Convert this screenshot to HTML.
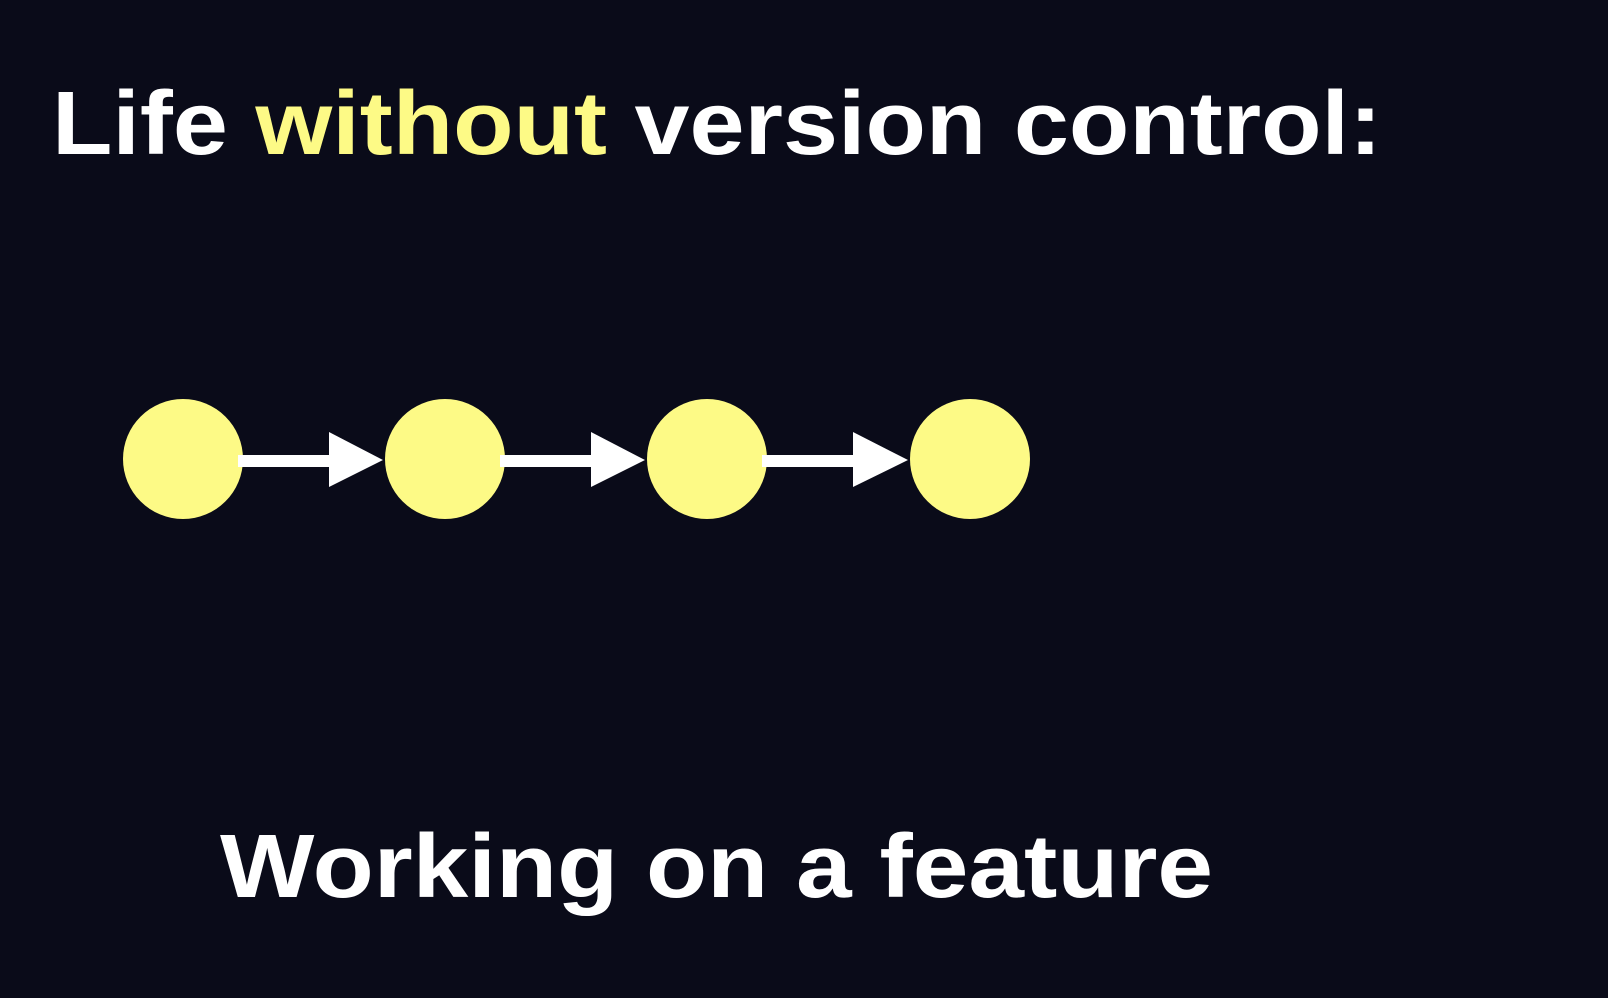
<!DOCTYPE html>
<html><head><meta charset="utf-8"><style>
html,body{margin:0;padding:0;background:#0a0b19;}
svg{display:block;}
</style></head><body>
<svg width="1608" height="998" viewBox="0 0 1608 998" xmlns="http://www.w3.org/2000/svg">
<rect width="1608" height="998" fill="#0a0b19"/>
<g font-family="Liberation Sans, sans-serif" font-weight="bold" font-size="90">
<text x="52" y="154" textLength="1330" lengthAdjust="spacingAndGlyphs" fill="#ffffff">Life <tspan fill="#fdfa86">without</tspan> version control:</text>
<text x="220" y="897" textLength="993" lengthAdjust="spacingAndGlyphs" fill="#ffffff">Working on a feature</text>
</g>
<g fill="#fdfa86">
<circle cx="183" cy="459" r="60"/>
<circle cx="445" cy="459" r="60"/>
<circle cx="707" cy="459" r="60"/>
<circle cx="970" cy="459" r="60"/>
</g>
<g fill="#ffffff">
<rect x="238" y="455" width="95" height="12"/>
<polygon points="329,432 383,460 329,487"/>
<rect x="500" y="455" width="95" height="12"/>
<polygon points="591,432 645,460 591,487"/>
<rect x="762" y="455" width="95" height="12"/>
<polygon points="853,432 908,460 853,487"/>
</g>
</svg>
</body></html>
